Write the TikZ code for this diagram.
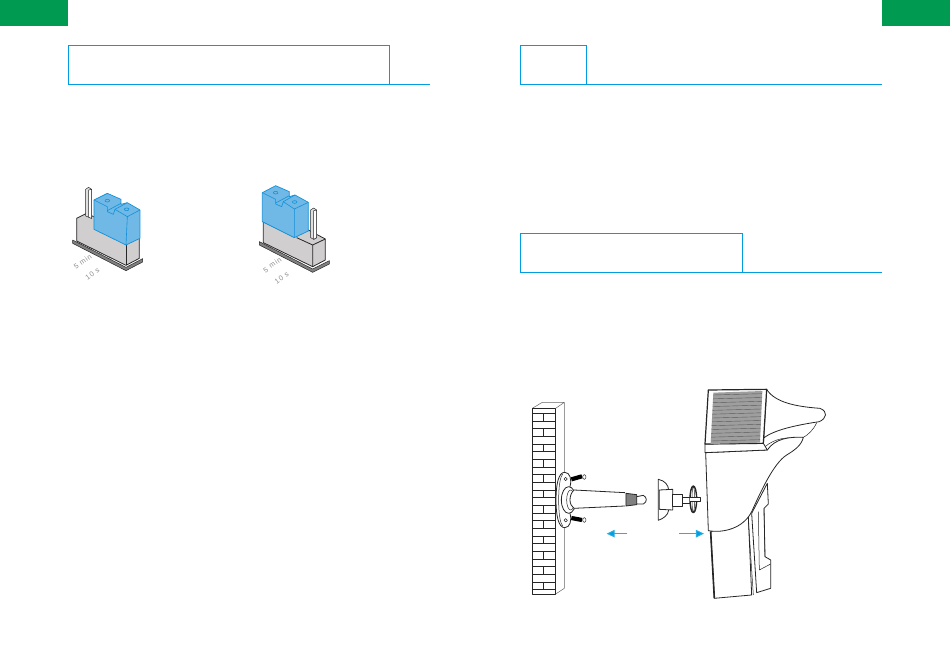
\documentclass[tikz,border=0pt]{standalone}
\usepackage{fontspec}
\setmainfont{Liberation Sans}
\newfontfamily\jumpfont[LetterSpace=12]{Liberation Sans}
\usetikzlibrary{arrows.meta}
\usetikzlibrary{positioning}
\definecolor{headgreen}{RGB}{0,155,80}
\definecolor{linecyan}{RGB}{0,158,224}
\definecolor{capblue}{RGB}{112,184,230}
\definecolor{capline}{RGB}{20,145,215}
\definecolor{bodygray}{RGB}{208,206,206}
\tikzset{
  tab/.style={fill=headgreen,draw=none,minimum height=26pt,minimum width=68pt,inner sep=0pt,outer sep=0pt},
  titlebox/.style={draw=linecyan,line width=0.8pt,minimum height=39pt,inner sep=0pt,outer sep=0pt},
  rule/.style={draw=linecyan,line width=0.8pt},
  part/.style={draw=black!85,line width=0.8pt,line join=round},
  thin part/.style={draw=black!85,line width=0.5pt,line join=round},
  jumpcap/.style={draw=capline,fill=capblue,line width=0.7pt,line join=round},
  capedge/.style={draw=capline,line width=0.6pt,line join=round},
  jumplabel/.style={text=black!45,font=\jumpfont\fontsize{7.2}{9}\selectfont,rotate=36,inner sep=0pt},
  push/.style={draw=linecyan!85,line width=1pt,-{Triangle[length=8pt,width=7.5pt,fill=linecyan]}}
}
\begin{document}
\begin{tikzpicture}[x=1pt,y=-1pt]
  \useasboundingbox (0,0) rectangle (950,645);

  % Green tabs
  \node[tab,anchor=north west] (tabL) at (0,0) {};
  \node[tab,anchor=north east] (tabR) at (950,0) {};

  % Title boxes and their rules
  \node[titlebox,minimum width=321pt,anchor=north west] (boxA) at (68,45) {};
  \node[titlebox,minimum width=66pt,anchor=north west] (boxB) at (520,45) {};
  \node[titlebox,minimum width=222pt,anchor=north west] (boxC) at (520,233) {};
  \coordinate (endA) at (430,84);
  \coordinate (endB) at (882,84);
  \coordinate (endC) at (882,272);
  \draw[rule] (boxA.south east) -- (endA);
  \draw[rule] (boxB.south east) -- (endB);
  \draw[rule] (boxC.south east) -- (endC);

  % First jumper
  \begin{scope}[shift={(50,170)},x=0.3333pt,y=-0.3333pt]
    \draw[thin part,fill=black!50] (68,210) -- (228,292) -- (278,266) -- (278,276) -- (228,302) -- (68,220) -- cycle;
    \draw[part,fill=bodygray] (80,145) -- (110,130) -- (268,205) -- (268,265) -- (228,286) -- (80,213) -- cycle;
    \draw[part] (228,225) -- (228,286);
    \draw[thin part,fill=black!12] (107,58) -- (116,52) -- (125,58) -- (125,145) -- (107,138) -- cycle;
    \draw[thin part,fill=white] (116,60) -- (125,58) -- (125,145) -- (116,142) -- cycle;
    \draw[jumpcap] (132,90) -- (172,70) -- (213,88) -- (213,103) -- (232,98) -- (270,120) -- (270,205) -- (228,225) -- (132,178) -- cycle;
    \draw[capedge] (132,90) -- (172,110) -- (172,125) -- (190,133) -- (195,118) -- (232,140) -- (270,120);
    \draw[capedge] (213,100) -- (172,122) (195,118) -- (232,98) (232,140) -- (228,225);
    \draw[capedge] (172,92) ellipse (7 and 4);
    \draw[capedge] (230,118) ellipse (7 and 4);
    \node[jumplabel] (minA) at (98,275) {5 min};
    \node[jumplabel] (secA) at (127,313) {10 s};
  \end{scope}

  % Second jumper
  \begin{scope}[shift={(230,170)},x=0.3333pt,y=-0.3333pt]
    \draw[thin part,fill=black!50] (88,215) -- (248,297) -- (298,272) -- (298,282) -- (248,307) -- (88,225) -- cycle;
    \draw[part,fill=bodygray] (100,155) -- (195,200) -- (235,180) -- (286,207) -- (286,270) -- (248,290) -- (100,218) -- cycle;
    \draw[part] (248,225) -- (248,290) (248,225) -- (286,207) (248,225) -- (200,203);
    \draw[thin part,fill=black!12] (242,120) -- (251,114) -- (260,120) -- (260,203) -- (251,208) -- (242,203) -- cycle;
    \draw[thin part,fill=white] (251,122) -- (260,120) -- (260,203) -- (251,208) -- cycle;
    \draw[jumpcap] (97,68) -- (137,47) -- (178,65) -- (178,80) -- (195,75) -- (235,97) -- (235,183) -- (193,203) -- (97,155) -- cycle;
    \draw[capedge] (97,68) -- (137,88) -- (137,102) -- (155,110) -- (160,95) -- (193,117) -- (235,97);
    \draw[capedge] (178,77) -- (137,99) (160,95) -- (195,75) (193,117) -- (193,203);
    \draw[capedge] (137,68) ellipse (7 and 4);
    \draw[capedge] (194,96) ellipse (7 and 4);
    \node[jumplabel] (minB) at (127,285) {5 min};
    \node[jumplabel] (secB) at (155,323) {10 s};
  \end{scope}

  % Brick wall, bracket and socket
  \begin{scope}[shift={(520,390)},x=0.3333pt,y=-0.3333pt]
    \draw[thin part,draw=black!60,fill=white] (37,55) -- (67,37) -- (133,37) -- (133,595) -- (107,612) -- (107,55) -- cycle (107,55) -- (133,37);
    \draw[part,fill=white] (37,55) rectangle (107,612);
    \foreach \row in {0,...,11} {
      \draw[part] (37,{70+46*\row}) -- (107,{70+46*\row});
      \draw[part] (37,{93+46*\row}) -- (107,{93+46*\row});
      \draw[part] (70,{70+46*\row}) -- (70,{93+46*\row});
    }
    % flange with two ears
    \draw[part,fill=white] (108,330) .. controls (108,285) and (115,247) .. (134,247) .. controls (150,247) and (156,268) .. (150,290) -- (150,370) .. controls (156,392) and (150,413) .. (134,413) .. controls (115,413) and (108,375) .. cycle;
    \draw[thin part] (116,330) .. controls (116,290) and (120,262) .. (128,252) (116,330) .. controls (116,370) and (120,398) .. (128,408);
    \draw[thin part,fill=white] (137,267) circle (5) (137,391) circle (5);
    \draw[part,fill=white] (146,330) ellipse (22 and 40);
    \draw[thin part,fill=white] (152,330) ellipse (12 and 30);
    % screws
    \draw[black,line width=4.2pt] (154,268) -- (186,259);
    \draw[black,line width=4.2pt] (154,384) -- (186,390);
    \draw[thin part,fill=white] (193,261) ellipse (5 and 7);
    \draw[thin part,fill=white] (193,390) ellipse (5 and 7);
    % arm and tip
    \draw[part,fill=white] (315,308) -- (162,300) .. controls (146,315) and (146,345) .. (162,355) -- (315,348);
    \draw[part,fill=black!50] (318,310) -- (350,314) -- (350,344) -- (318,348) -- cycle;
    \draw[part,fill=white] (350,320) -- (370,316) .. controls (382,322) and (382,336) .. (370,342) -- (350,342) -- cycle;
    % socket and wheel
    \draw[part,fill=white] (415,268) .. controls (435,272) and (445,285) .. (446,300) -- (446,360) .. controls (445,375) and (430,386) .. (415,391) -- cycle;
    \draw[part,fill=white] (418,300) -- (458,298) -- (458,360) -- (418,358) -- cycle;
    \draw[part,fill=white] (458,312) -- (486,312) -- (486,348) -- (458,348) -- cycle;
    \draw[part,fill=white] (486,322) rectangle (512,340);
    \draw[part,fill=white,line width=1.4pt] (520,328) ellipse (10 and 40);
    \draw[thin part] (520,328) ellipse (4 and 38);
    \draw[thin part,fill=white] (510,322) -- (540,322) -- (540,334) -- (510,334);
    \coordinate (pushLs) at (322,431);
    \coordinate (pushLe) at (260,431);
    \coordinate (pushRs) at (478,431);
    \coordinate (pushRe) at (552,431);
    \draw[push] (pushLs) -- (pushLe);
    \draw[push] (pushRs) -- (pushRe);
  \end{scope}

  % Sensor body
  \begin{scope}[shift={(680,380)},x=0.3333pt,y=-0.3333pt]
    \draw[part,fill=white] (92,455) -- (103,655) -- (215,645) -- (205,410) -- cycle;
    \draw[part,line width=1.6pt] (92,455) -- (103,655);
    \draw[thin part] (205,420) -- (220,645);
    \draw[part,fill=white] (215,400) -- (230,638) -- (272,625) -- (272,540) -- (255,530) -- (252,385) -- (265,372) -- (262,310) -- cycle;
    \draw[thin part] (235,395) -- (238,570) -- (272,552);
    \draw[thin part] (252,385) -- (255,530);
    \draw[part,fill=white] (260,28) .. controls (285,68) and (350,80) .. (420,85) .. controls (445,95) and (440,115) .. (418,125) .. controls (350,135) and (280,150) .. (250,175) -- (250,195) -- cycle;
    \draw[thin part] (410,128) .. controls (400,150) and (385,165) .. (365,175) .. controls (320,170) and (285,175) .. (255,200);
    \draw[part,fill=white] (77,218) -- (85,452) .. controls (130,460) and (190,445) .. (215,395) .. controls (240,340) and (280,250) .. (320,225) .. controls (345,210) and (365,195) .. (370,172) .. controls (330,170) and (285,175) .. (262,210) -- cycle;
    \draw[part,fill=white] (75,192) -- (250,190) -- (262,210) -- (75,218) -- cycle;
    \draw[part,fill=white,line width=1.2pt] (85,30) -- (260,28) -- (250,190) -- (75,192) -- cycle;
    \draw[draw=none,fill=black!38] (100,38) -- (247,33) -- (240,188) -- (92,192) -- cycle;
    \foreach \hatch in {0,...,12} {
      \draw[black!65,line width=0.4pt] ({100-0.6*\hatch},{45+11.5*\hatch}) -- ({246-0.5*\hatch},{41+11.5*\hatch});
    }
  \end{scope}
\end{tikzpicture}
\end{document}
